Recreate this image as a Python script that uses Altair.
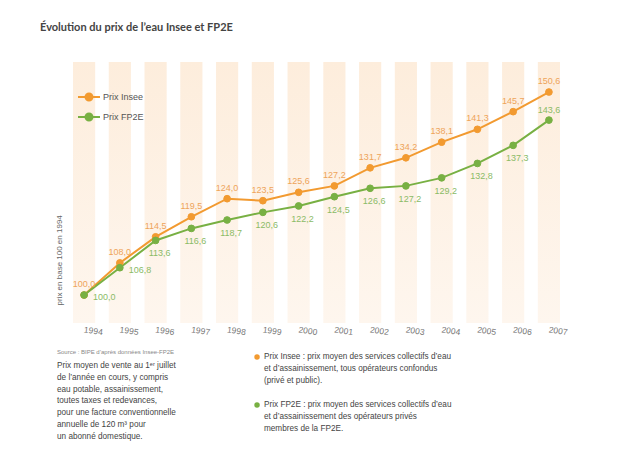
import altair as alt
import pandas as pd

years = list(range(1994, 2008))
insee = [100.0, 108.0, 114.5, 119.5, 124.0, 123.5, 125.6, 127.2, 131.7, 134.2, 138.1, 141.3, 145.7, 150.6]
fp2e = [100.0, 106.8, 113.6, 116.6, 118.7, 120.6, 122.2, 124.5, 126.6, 127.2, 129.2, 132.8, 137.3, 143.6]
series = ["Prix Insee", "Prix FP2E"]
colors = ["#f29a30", "#78b043"]
label_colors = ["#eea45a", "#8bbb66"]

title_text = "Évolution du prix de l’eau Insee et FP2E"
y_title = "prix en base 100 en 1994"
source_text = "Source : BIPE d’après données Insee-FP2E"
note_lines = [
    "Prix moyen de vente au 1ᵉʳ juillet",
    "de l’année en cours, y compris",
    "eau potable, assainissement,",
    "toutes taxes et redevances,",
    "pour une facture conventionnelle",
    "annuelle de 120 m³ pour",
    "un abonné domestique.",
]
insee_note = [
    "Prix Insee : prix moyen des services collectifs d’eau",
    "et d’assainissement, tous opérateurs confondus",
    "(privé et public).",
]
fp2e_note = [
    "Prix FP2E : prix moyen des services collectifs d’eau",
    "et d’assainissement des opérateurs privés",
    "membres de la FP2E.",
]

Y_MIN, Y_MAX = 93.02, 158.08
X_DOM = [1993.69, 2007.31]
FONT = "Liberation Sans"

rows = []
for y, a, b in zip(years, insee, fp2e):
    rows.append({"year": y, "value": a, "series": series[0], "label": f"{a:.1f}".replace(".", ",")})
    rows.append({"year": y, "value": b, "series": series[1], "label": f"{b:.1f}".replace(".", ",")})
df = pd.DataFrame(rows)
stripes = pd.DataFrame({"year": years})

xs = alt.Scale(domain=X_DOM, nice=False, zero=False)
ys = alt.Scale(domain=[Y_MIN, Y_MAX], nice=False, zero=False)
cscale = alt.Scale(domain=series, range=colors)

x_axis = alt.Axis(values=years, format="d", labelAngle=8, domain=False, ticks=False, grid=False,
                  labelFontSize=8.5, labelColor="#777777", labelPadding=2, labelFont=FONT)
y_axis = alt.Axis(labels=False, ticks=False, domain=False, grid=False, title=y_title,
                  titleAngle=270, titleX=-14, titleY=243, titleAlign="left", titleBaseline="middle",
                  titleFontSize=8, titleFontWeight="normal", titleColor="#666666", titleFont=FONT)

grad = alt.Gradient(gradient="linear",
                    stops=[alt.GradientStop(color="#fdeddc", offset=0),
                           alt.GradientStop(color="#fef6ee", offset=1)],
                    x1=0, x2=0, y1=0, y2=1)

stripe_layer = alt.Chart(stripes).transform_calculate(
    x0="datum.year - 0.31", x1="datum.year + 0.31", y0=str(Y_MIN), y1=str(Y_MAX)
).mark_rect(color=grad).encode(
    x=alt.X("x0:Q", scale=xs, axis=x_axis, title=None),
    x2="x1:Q",
    y=alt.Y("y0:Q", scale=ys, axis=y_axis),
    y2="y1:Q",
)

legend = alt.Legend(title=None, orient="none", legendX=5, legendY=24,
                    symbolType="M-1.1,0L1.1,0M0.35,0A0.35,0.35,0,1,1,-0.35,0A0.35,0.35,0,1,1,0.35,0Z",
                    symbolSize=400, symbolStrokeWidth=2, labelFontSize=9, labelColor="#555555",
                    labelFont=FONT, labelOffset=3, rowPadding=1, padding=0)

base = alt.Chart(df).encode(
    x=alt.X("year:Q", scale=xs, axis=x_axis, title=None),
    y=alt.Y("value:Q", scale=ys, axis=y_axis),
)

line_layer = base.mark_line(strokeWidth=2).encode(
    stroke=alt.Stroke("series:N", scale=cscale, legend=legend),
    detail="series:N",
)
point_layer = base.mark_point(filled=True, size=45, opacity=1, strokeWidth=1).encode(
    fill=alt.Fill("series:N", scale=cscale, legend=legend),
    stroke=alt.Stroke("series:N", scale=cscale, legend=legend),
)

lab_insee = base.transform_filter(alt.datum.series == series[0]).mark_text(
    dy=-11, fontSize=9, font=FONT, color=label_colors[0]
).encode(text="label:N")

green = base.transform_filter(alt.datum.series == series[1])
lab_fp2e_right = green.transform_filter(alt.datum.year <= 1995).mark_text(
    align="left", dx=9, dy=2, fontSize=9, font=FONT, color=label_colors[1]
).encode(text="label:N")
lab_fp2e_below = green.transform_filter((alt.datum.year > 1995) & (alt.datum.year < 2007)).mark_text(
    dy=13, dx=4, fontSize=9, font=FONT, color=label_colors[1]
).encode(text="label:N")
lab_fp2e_above = green.transform_filter(alt.datum.year == 2007).mark_text(
    dy=-10, fontSize=9, font=FONT, color=label_colors[1]
).encode(text="label:N")

one = pd.DataFrame({"k": [0]})
title_layer = alt.Chart(one).mark_text(
    align="left", baseline="middle", font="Lato", fontWeight="bold", fontSize=11, color="#444444"
).encode(x=alt.value(-33), y=alt.value(-34), text=alt.value(title_text))

source_layer = alt.Chart(one).mark_text(
    align="left", baseline="middle", font=FONT, fontSize=6, color="#888888"
).encode(x=alt.value(-16), y=alt.value(290), text=alt.value(source_text))

note_layer = alt.Chart(one).mark_text(
    align="left", baseline="middle", font=FONT, fontSize=8.2, color="#444444", lineHeight=11.8
).encode(x=alt.value(-16), y=alt.value(304), text=alt.value(note_lines))

insee_note_layer = alt.Chart(one).mark_text(
    align="left", baseline="middle", font=FONT, fontSize=8.2, color="#444444", lineHeight=12
).encode(x=alt.value(191), y=alt.value(295), text=alt.value(insee_note))

fp2e_note_layer = alt.Chart(one).mark_text(
    align="left", baseline="middle", font=FONT, fontSize=8.2, color="#444444", lineHeight=12
).encode(x=alt.value(191), y=alt.value(343), text=alt.value(fp2e_note))

dot_insee = alt.Chart(one).mark_point(filled=True, size=30, opacity=1, color=colors[0]).encode(
    x=alt.value(184), y=alt.value(295))
dot_fp2e = alt.Chart(one).mark_point(filled=True, size=30, opacity=1, color=colors[1]).encode(
    x=alt.value(184), y=alt.value(343))

chart = alt.layer(
    stripe_layer, line_layer, point_layer, lab_insee, lab_fp2e_right, lab_fp2e_below, lab_fp2e_above,
    title_layer, source_layer, note_layer, insee_note_layer, fp2e_note_layer, dot_insee, dot_fp2e
).properties(
    width=487, height=261,
    autosize=alt.AutoSizeParams(type="none"),
    padding={"left": 65, "top": 54, "right": 40, "bottom": 130},
    background="white",
).configure_view(stroke=None)

chart.save("out.html", embed_options={"renderer": "svg", "actions": False})
